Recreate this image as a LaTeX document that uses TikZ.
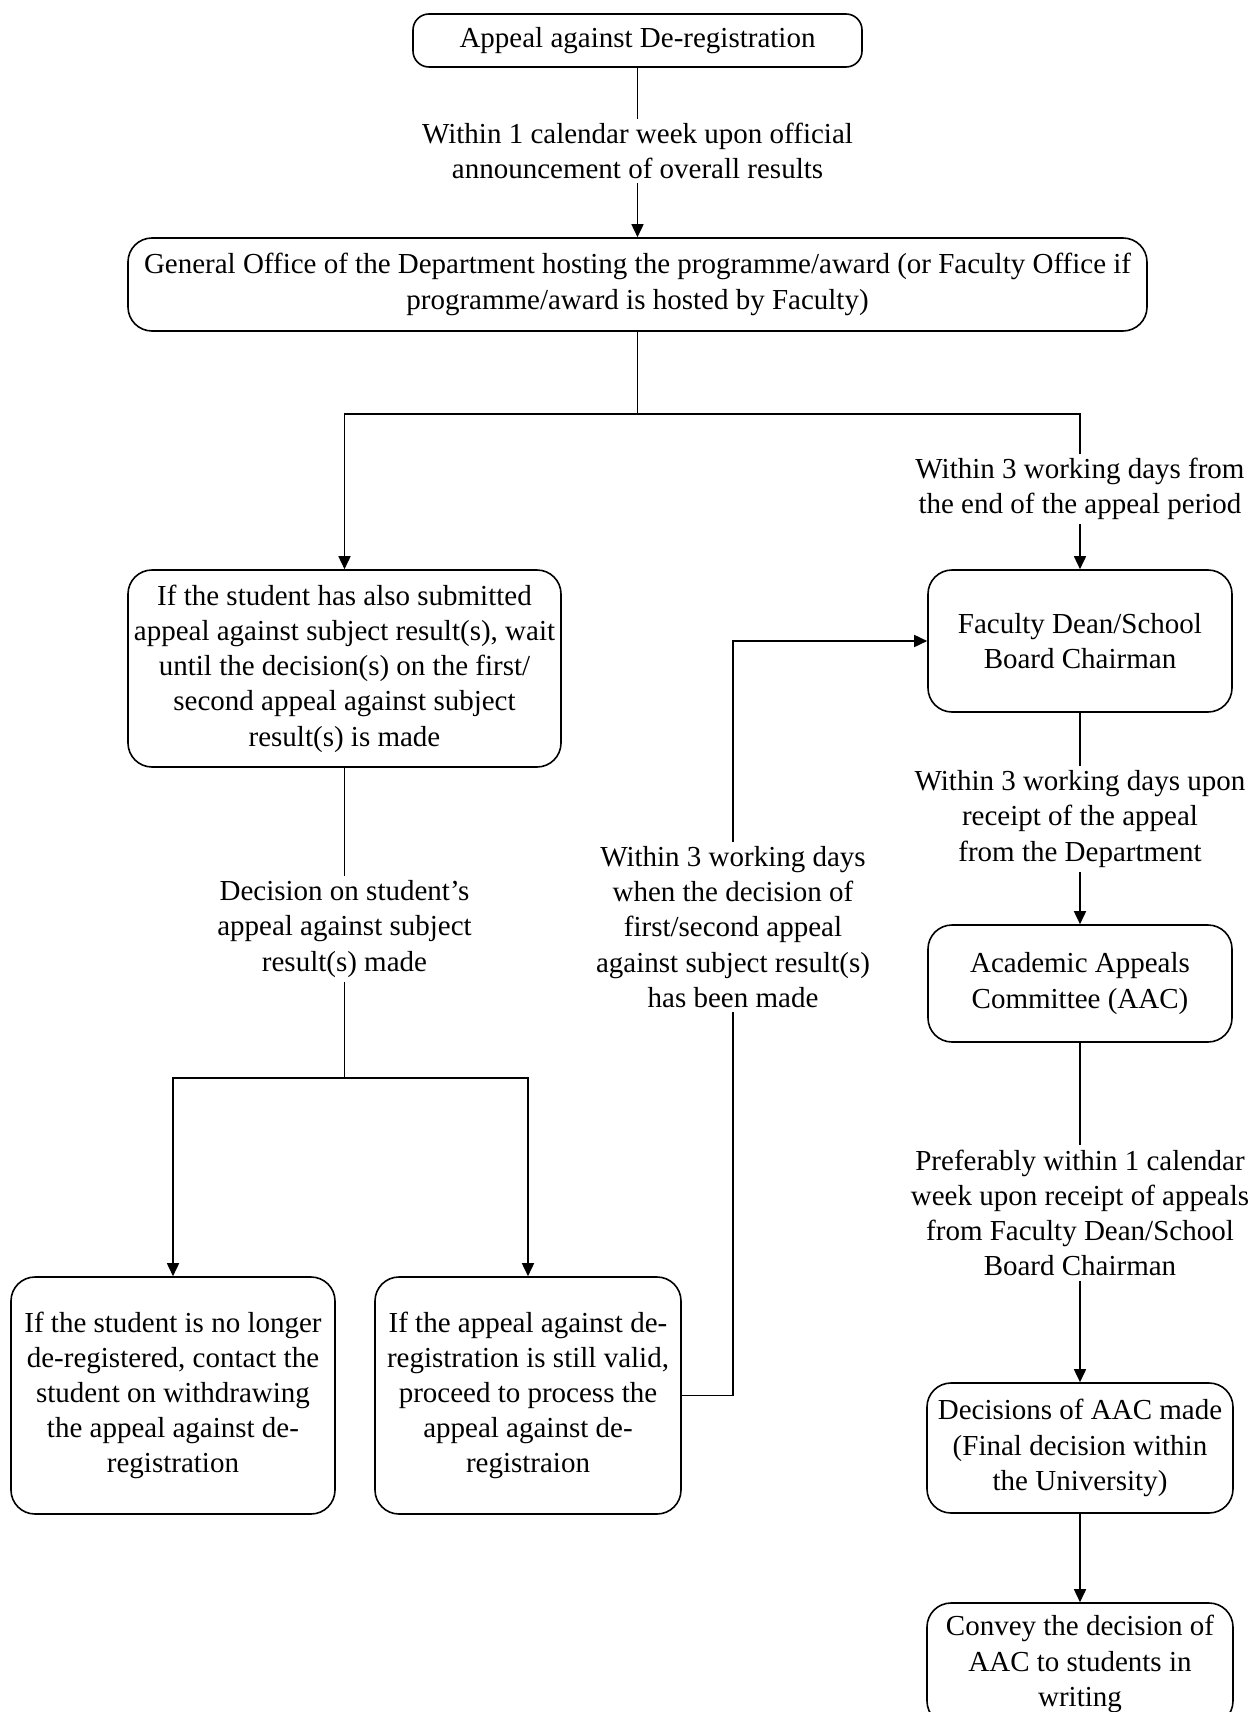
\documentclass[tikz,border=0pt]{standalone}
\usepackage{fontspec}
\setmainfont{Liberation Serif}
\usetikzlibrary{arrows.meta}
\begin{document}
\begin{tikzpicture}[x=0.5pt,y=-0.5pt,
  txt/.style={font=\fontsize{14.5}{17.6}\selectfont},
  box/.style={txt, draw, line width=0.8pt, rounded corners=12pt, align=center, inner sep=0pt},
  lab/.style={txt, align=center, inner sep=2pt},
  conn/.style={line width=0.8pt},
  arr/.style={conn, -{Triangle[length=6.5pt,width=6pt]}}]
\useasboundingbox (0,0) rectangle (1253,1712);

% boxes
\node[box, rounded corners=8pt, minimum width=224.5pt, minimum height=26.5pt] (top) at (637.5,40.5) {Appeal against De-registration};
\node[box, minimum width=509.5pt, minimum height=46.5pt] (gen) at (637.5,284.5) {General Office of the Department hosting the programme/award (or Faculty Office if\\ programme/award is hosted by Faculty)};
\node[box, minimum width=216.5pt, minimum height=98.5pt] (lbox) at (344.5,668.5) {If the student has also submitted\\ appeal against subject result(s), wait\\ until the decision(s) on the first/\\ second appeal against subject\\ result(s) is made};
\node[box, minimum width=152pt, minimum height=71pt] (fac) at (1080,641) {Faculty Dean/School\\ Board Chairman};
\node[box, minimum width=152pt, minimum height=58.5pt] (aac) at (1080,983.5) {Academic Appeals\\ Committee (AAC)};
\node[box, minimum width=153pt, minimum height=65pt] (dec) at (1080,1448) {Decisions of AAC made\\ (Final decision within\\ the University)};
\node[box, minimum width=153pt, minimum height=61pt] (conv) at (1080,1664) {Convey the decision of\\ AAC to students in\\ writing};
\node[box, minimum width=162pt, minimum height=118.5pt] (b1) at (173,1395.5) {If the student is no longer\\ de-registered, contact the\\ student on withdrawing\\ the appeal against de-\\ registration};
\node[box, minimum width=153pt, minimum height=118.5pt] (b2) at (528,1395.5) {If the appeal against de-\\ registration is still valid,\\ proceed to process the\\ appeal against de-\\ registraion};

% labels
\node[lab] (l1) at (637.5,151) {Within 1 calendar week upon official\\ announcement of overall results};
\node[lab] (l3) at (1080,489) {Within 3 working days from\\ the end of the appeal period};
\node[lab] (l4) at (344.5,929) {Decision on student’s\\ appeal against subject\\ result(s) made};
\node[lab] (l5) at (733,927) {Within 3 working days\\ when the decision of\\ first/second appeal\\ against subject result(s)\\ has been made};
\node[lab] (l6) at (1080,819) {Within 3 working days upon\\ receipt of the appeal\\ from the Department};
\node[lab] (l7) at (1080,1213) {Preferably within 1 calendar\\ week upon receipt of appeals\\ from Faculty Dean/School\\ Board Chairman};

% junction points
\coordinate (s1) at (637.5,414);
\coordinate (s2) at (344.5,1078);
\coordinate (c5) at (733,1395.5);

% connectors
\draw[conn] (top) -- (l1);
\draw[arr] (l1) -- (gen);
\draw[conn] (gen) -- (s1);
\draw[arr] (s1) -| (lbox);
\draw[conn] (s1) -| (l3);
\draw[arr] (l3) -- (fac);
\draw[conn] (lbox) -- (l4);
\draw[conn] (l4) -- (s2);
\draw[arr] (s2) -| (b1);
\draw[arr] (s2) -| (b2);
\draw[conn] (b2.east) -- (c5) -- (l5);
\draw[arr] (l5) |- (fac);
\draw[conn] (fac) -- (l6);
\draw[arr] (l6) -- (aac);
\draw[conn] (aac) -- (l7);
\draw[arr] (l7) -- (dec);
\draw[arr] (dec) -- (conv);
\end{tikzpicture}
\end{document}
